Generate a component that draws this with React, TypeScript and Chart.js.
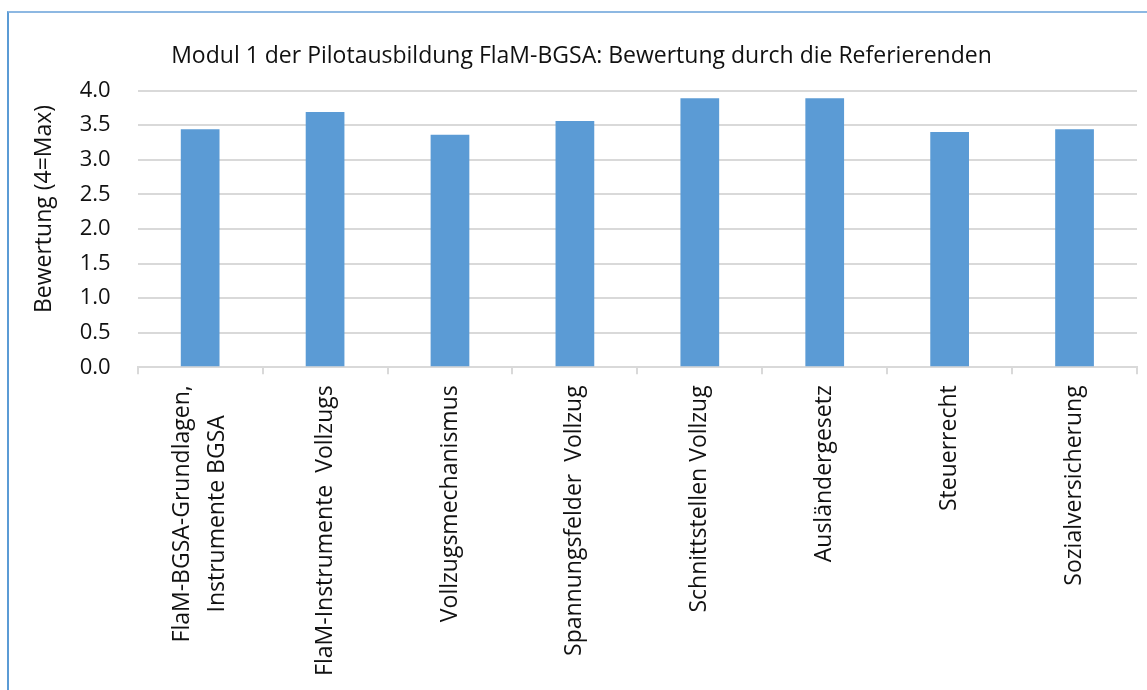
import React, { useEffect, useRef } from "react";
import { Chart, registerables } from "chart.js";

Chart.register(...registerables);

const chartTitle = "Modul 1 der Pilotausbildung FlaM-BGSA: Bewertung durch die Referierenden";
const yAxisTitle = "Bewertung (4=Max)";
const categories: string[][] = [
  ["FlaM-BGSA-Grundlagen,", "Instrumente BGSA"],
  ["FlaM-Instrumente  Vollzugs"],
  ["Vollzugsmechanismus"],
  ["Spannungsfelder  Vollzug"],
  ["Schnittstellen Vollzug"],
  ["Ausländergesetz"],
  ["Steuerrecht"],
  ["Sozialversicherung"],
];
const ratings: number[] = [3.44, 3.69, 3.36, 3.56, 3.89, 3.89, 3.4, 3.44];
const yMin = 0;
const yMax = 4;
const yStep = 0.5;

const FONT = "'Open Sans', Lato, sans-serif";
const TEXT = "#111111";
const GRID = "#d9d9d9";
const BAR = "#5b9bd5";

export default function App() {
  const ref = useRef<HTMLCanvasElement | null>(null);

  useEffect(() => {
    document.body.style.margin = "0";
    document.body.style.overflow = "hidden";
    const canvas = ref.current;
    if (!canvas) return;

    const textPlugin = {
      id: "customText",
      afterDraw(chart: any) {
        const ctx = chart.ctx as CanvasRenderingContext2D;
        const xs = chart.scales.x;
        ctx.save();
        ctx.fillStyle = TEXT;
        ctx.font = `23px ${FONT}`;
        ctx.textAlign = "center";
        ctx.textBaseline = "middle";
        const labelTop = chart.chartArea.bottom + 18;
        categories.forEach((lines, i) => {
          const x = xs.getPixelForValue(i);
          const maxW = Math.max(...lines.map((l) => ctx.measureText(l).width));
          const cy = labelTop + maxW / 2;
          lines.forEach((line, j) => {
            const off = (j - (lines.length - 1) / 2) * 35;
            ctx.save();
            ctx.translate(x + off, cy);
            ctx.rotate(-Math.PI / 2);
            ctx.fillText(line, 0, 0);
            ctx.restore();
          });
        });
        // y axis title
        ctx.font = `23px ${FONT}`;
        ctx.save();
        ctx.translate(36, 209);
        ctx.rotate(-Math.PI / 2);
        ctx.fillText(yAxisTitle, 0, 0);
        ctx.restore();
        ctx.restore();
      },
    };

    const chart = new Chart(canvas, {
      type: "bar",
      data: {
        labels: categories,
        datasets: [
          {
            data: ratings,
            backgroundColor: BAR,
            borderWidth: 0,
            categoryPercentage: 1,
            barPercentage: 0.31,
          },
        ],
      },
      options: {
        responsive: false,
        animation: false,
        layout: { padding: { left: 18, right: 18, top: 0, bottom: 0 } },
        plugins: {
          legend: { display: false },
          tooltip: { enabled: false },
          title: {
            display: true,
            text: chartTitle,
            color: TEXT,
            font: { family: FONT, size: 23, weight: "normal", lineHeight: 1.2 },
            padding: { top: 43, bottom: 20 },
          },
        },
        scales: {
          x: {
            grid: {
              display: true,
              drawOnChartArea: false,
              drawTicks: true,
              tickLength: 7,
              color: GRID,
              lineWidth: 2,
              offset: true,
            },
            border: { display: true, color: GRID, width: 2 },
            ticks: { display: false },
            afterFit: (s: any) => {
              s.height = 690 - 367.3;
            },
          },
          y: {
            min: yMin,
            max: yMax,
            ticks: {
              stepSize: yStep,
              padding: 27,
              color: TEXT,
              font: { family: FONT, size: 22 },
              callback: (v: any) => Number(v).toFixed(1),
            },
            grid: { color: GRID, lineWidth: 2, drawTicks: false },
            border: { display: false },
            afterFit: (s: any) => {
              s.width = 129.7 - 18;
            },
          },
        },
      },
      plugins: [textPlugin],
    } as any);

    return () => chart.destroy();
  }, []);

  return (
    <div
      style={{
        position: "fixed",
        left: 0,
        top: 0,
        width: 1147,
        height: 690,
        overflow: "hidden",
        background: "#ffffff",
      }}
    >
      <div
        style={{
          position: "absolute",
          left: 7,
          top: 11,
          width: 1300,
          height: 900,
          borderLeft: "2px solid #5b9bd5",
          borderTop: "2px solid #8db8e2",
        }}
      />
      <canvas
        ref={ref}
        width={1147}
        height={690}
        style={{ position: "absolute", left: 8, top: 0, width: 1147, height: 690 }}
      />
    </div>
  );
}
